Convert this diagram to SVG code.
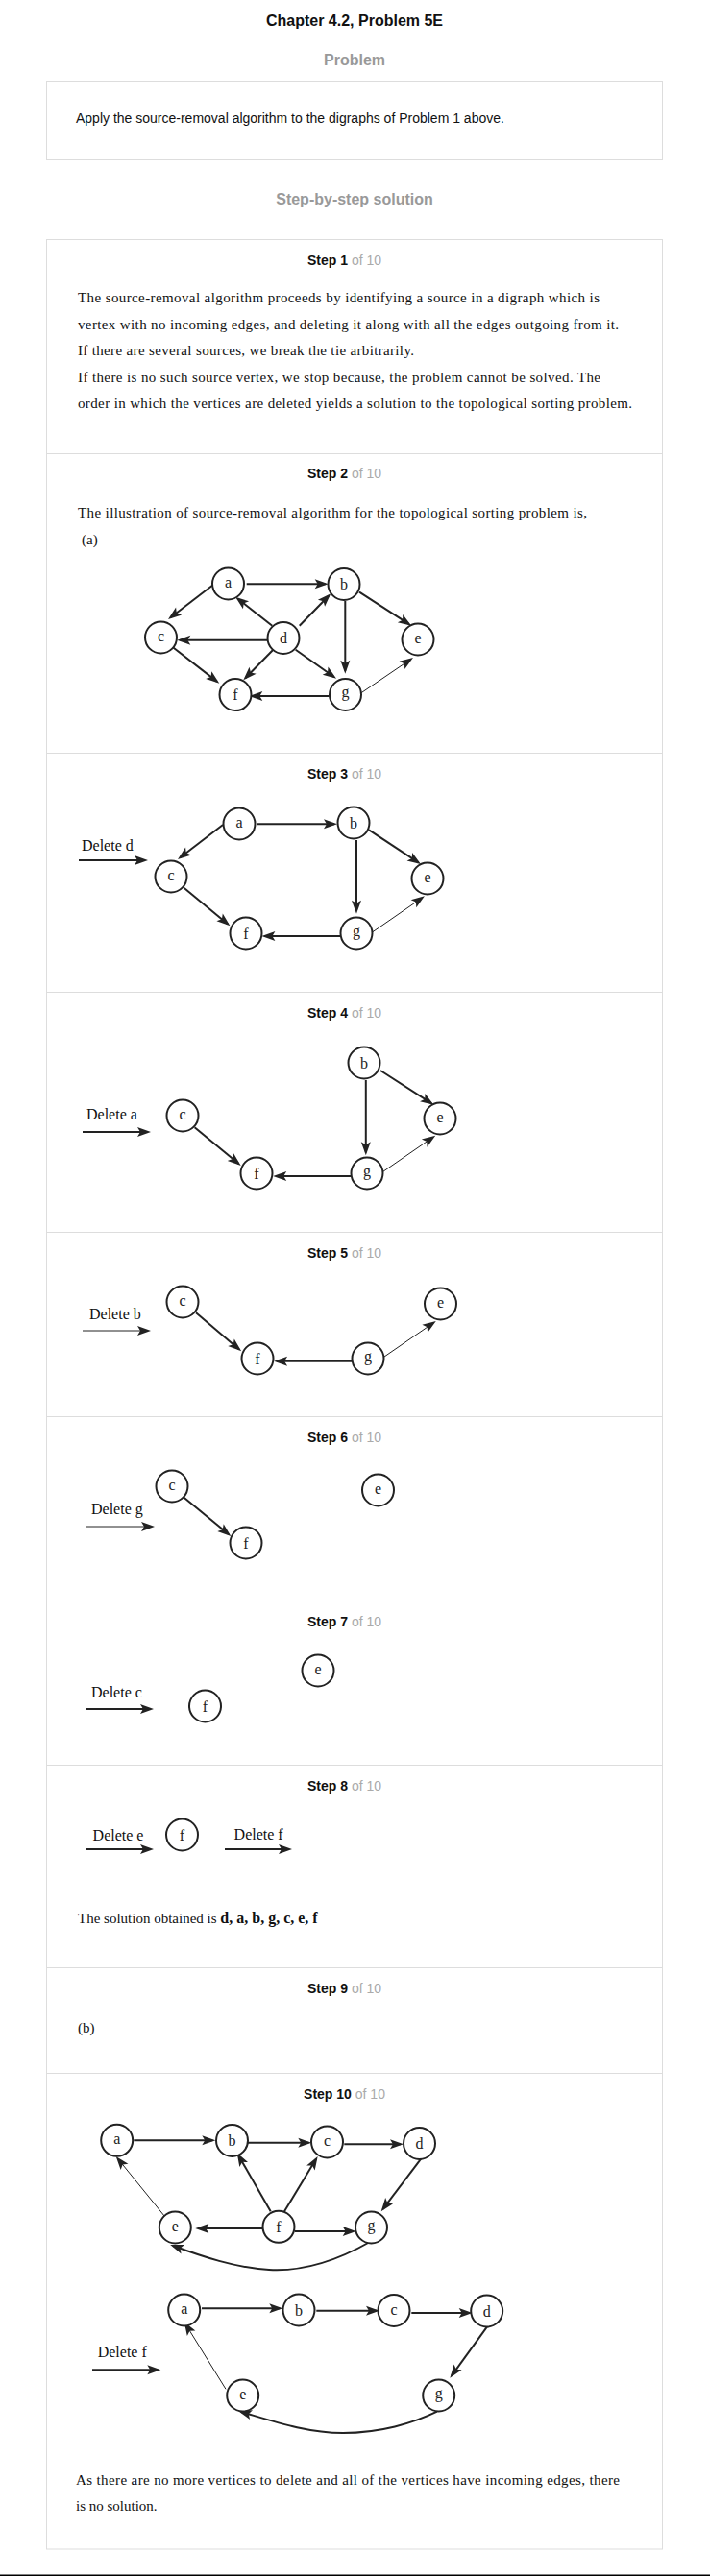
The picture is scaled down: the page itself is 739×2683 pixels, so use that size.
<svg xmlns="http://www.w3.org/2000/svg" width="739" height="2683" viewBox="0 0 739 2683">
<style>
.box{fill:#fff;stroke:#ddd;stroke-width:1}
.div{stroke:#ddd;stroke-width:1}
.title{font-family:"Liberation Sans",Arial,sans-serif;font-size:16px;font-weight:bold;fill:#111;text-anchor:middle}
.sec{font-family:"Liberation Sans",Arial,sans-serif;font-size:16px;font-weight:bold;fill:#999;text-anchor:middle}
.hdr{font-family:"Liberation Sans",Arial,sans-serif;font-size:14px;font-weight:bold;fill:#111;text-anchor:middle}
.of{font-weight:normal;fill:#aaa}
.sans{font-family:"Liberation Sans",Arial,sans-serif;font-size:14px;fill:#111}
.body{font-family:"Liberation Serif","Times New Roman",serif;font-size:15px;fill:#111}
.lbl{font-family:"Liberation Serif","Times New Roman",serif;font-size:16px;fill:#111}
.node circle{fill:#fff;stroke:#222;stroke-width:2}
.node text{font-family:"Liberation Serif","Times New Roman",serif;font-size:16px;fill:#222;text-anchor:middle}
.e{stroke:#222;stroke-width:2;fill:none;marker-end:url(#ah)}
.t{stroke-width:1}
</style>
<defs>
<marker id="ah" viewBox="-14 -6 18 12" markerWidth="18" markerHeight="12" refX="0" refY="0" orient="auto" markerUnits="userSpaceOnUse">
<path d="M3,0 L-11,-5 L-8,0 L-11,5 Z" fill="#222"/>
</marker>
</defs>
<rect width="739" height="2683" fill="#fff"/>

<text class="title" x="369" y="27">Chapter 4.2, Problem 5E</text>
<text class="sec" x="369" y="68">Problem</text>
<rect class="box" x="48.5" y="84.5" width="641" height="82"/>
<text class="sans" x="79" y="128">Apply the source-removal algorithm to the digraphs of Problem 1 above.</text>
<text class="sec" x="369" y="213">Step-by-step solution</text>

<rect class="box" x="48.5" y="249.5" width="641" height="2405.5"/>
<g id="dividers">
<line class="div" x1="48.5" y1="472.5" x2="689.5" y2="472.5"/>
<line class="div" x1="48.5" y1="784.5" x2="689.5" y2="784.5"/>
<line class="div" x1="48.5" y1="1033.5" x2="689.5" y2="1033.5"/>
<line class="div" x1="48.5" y1="1283.5" x2="689.5" y2="1283.5"/>
<line class="div" x1="48.5" y1="1475.5" x2="689.5" y2="1475.5"/>
<line class="div" x1="48.5" y1="1667.5" x2="689.5" y2="1667.5"/>
<line class="div" x1="48.5" y1="1838.5" x2="689.5" y2="1838.5"/>
<line class="div" x1="48.5" y1="2049.5" x2="689.5" y2="2049.5"/>
<line class="div" x1="48.5" y1="2159.5" x2="689.5" y2="2159.5"/>
</g>

<g id="headers">
<text class="hdr" x="358.5" y="276">Step 1 <tspan class="of">of 10</tspan></text>
<text class="hdr" x="358.5" y="498">Step 2 <tspan class="of">of 10</tspan></text>
<text class="hdr" x="358.5" y="811">Step 3 <tspan class="of">of 10</tspan></text>
<text class="hdr" x="358.5" y="1060">Step 4 <tspan class="of">of 10</tspan></text>
<text class="hdr" x="358.5" y="1310">Step 5 <tspan class="of">of 10</tspan></text>
<text class="hdr" x="358.5" y="1502">Step 6 <tspan class="of">of 10</tspan></text>
<text class="hdr" x="358.5" y="1694">Step 7 <tspan class="of">of 10</tspan></text>
<text class="hdr" x="358.5" y="1865">Step 8 <tspan class="of">of 10</tspan></text>
<text class="hdr" x="358.5" y="2076">Step 9 <tspan class="of">of 10</tspan></text>
<text class="hdr" x="358.5" y="2186">Step 10 <tspan class="of">of 10</tspan></text>
</g>

<g id="step1-text">
<text class="body" x="81" y="315" textLength="543" lengthAdjust="spacing">The source-removal algorithm proceeds by identifying a source in a digraph which is</text>
<text class="body" x="81" y="343" textLength="563" lengthAdjust="spacing">vertex with no incoming edges, and deleting it along with all the edges outgoing from it.</text>
<text class="body" x="81" y="370" textLength="350" lengthAdjust="spacing">If there are several sources, we break the tie arbitrarily.</text>
<text class="body" x="81" y="398" textLength="544" lengthAdjust="spacing">If there is no such source vertex, we stop because, the problem cannot be solved. The</text>
<text class="body" x="81" y="425" textLength="577" lengthAdjust="spacing">order in which the vertices are deleted yields a solution to the topological sorting problem.</text>
</g>

<g id="step2-text">
<text class="body" x="81" y="539" textLength="530" lengthAdjust="spacing">The illustration of source-removal algorithm for the topological sorting problem is,</text>
<text class="body" x="85" y="567">(a)</text>
</g>

<!-- Step 2 graph -->
<g id="s2-connectors">
<line class="e" x1="256.7" y1="608.3" x2="338.7" y2="608.3"/>
<line class="e" x1="221.7" y1="609.3" x2="177.4" y2="643.2"/>
<line class="e" x1="283.3" y1="651.7" x2="247.4" y2="623.5"/>
<line class="e" x1="311.7" y1="651.7" x2="342.2" y2="620.5"/>
<line class="e" x1="278" y1="666.7" x2="187.3" y2="666.7"/>
<line class="e" x1="284.3" y1="676.7" x2="255.4" y2="706.2"/>
<line class="e" x1="307.7" y1="676.7" x2="347.6" y2="705.0"/>
<line class="e" x1="359.3" y1="626" x2="359.3" y2="698.7"/>
<line class="e" x1="374" y1="616.7" x2="425.8" y2="650.1"/>
<line class="e" x1="180" y1="674.3" x2="225.9" y2="709.9"/>
<line class="e" x1="342.7" y1="725" x2="262.3" y2="725"/>
<line class="e t" x1="376" y1="721.7" x2="427.5" y2="686.7"/>
</g>
<g id="s2-a" class="node"><circle cx="237.5" cy="608" r="16.5"/><text x="237.5" y="612">a</text></g>
<g id="s2-b" class="node"><circle cx="358" cy="608.5" r="16.5"/><text x="358" y="614">b</text></g>
<g id="s2-c" class="node"><circle cx="167.5" cy="664" r="16.5"/><text x="167.5" y="668">c</text></g>
<g id="s2-d" class="node"><circle cx="295" cy="664.5" r="16.5"/><text x="295" y="670">d</text></g>
<g id="s2-e" class="node"><circle cx="435" cy="666" r="16.5"/><text x="435" y="670">e</text></g>
<g id="s2-f" class="node"><circle cx="245" cy="723.5" r="16.5"/><text x="245" y="729">f</text></g>
<g id="s2-g" class="node"><circle cx="359.5" cy="723.5" r="16.5"/><text x="359.5" y="726">g</text></g>

<!-- Step 3 -->
<text class="lbl" x="85" y="886">Delete d</text>
<g id="s3-connectors">
<line class="e" x1="82" y1="896" x2="151" y2="896"/>
<line class="e" x1="267" y1="858.3" x2="348" y2="858.3"/>
<line class="e" x1="232" y1="859" x2="187.4" y2="893.2"/>
<line class="e" x1="384" y1="864.3" x2="435.5" y2="898.3"/>
<line class="e" x1="371" y1="875" x2="371" y2="948.7"/>
<line class="e" x1="191.8" y1="925" x2="237.1" y2="962.4"/>
<line class="e" x1="354.4" y1="975" x2="275.4" y2="975"/>
<line class="e t" x1="386.4" y1="971.7" x2="439.5" y2="935.0"/>
</g>
<g id="s3-a" class="node"><circle cx="249" cy="858" r="16.5"/><text x="249" y="862">a</text></g>
<g id="s3-b" class="node"><circle cx="368" cy="857" r="16.5"/><text x="368" y="862.5">b</text></g>
<g id="s3-c" class="node"><circle cx="178" cy="913" r="16.5"/><text x="178" y="917">c</text></g>
<g id="s3-e" class="node"><circle cx="445" cy="915" r="16.5"/><text x="445" y="919">e</text></g>
<g id="s3-f" class="node"><circle cx="256" cy="972" r="16.5"/><text x="256" y="977.5">f</text></g>
<g id="s3-g" class="node"><circle cx="371" cy="972" r="16.5"/><text x="371" y="974.5">g</text></g>

<!-- Step 4 -->
<text class="lbl" x="90" y="1166">Delete a</text>
<g id="s4-connectors">
<line class="e" x1="86" y1="1179" x2="154" y2="1179"/>
<line class="e" x1="396" y1="1115" x2="449.0" y2="1149.1"/>
<line class="e" x1="380.8" y1="1125" x2="380.8" y2="1200.3"/>
<line class="e" x1="202.6" y1="1174.3" x2="248.4" y2="1212.1"/>
<line class="e" x1="366.2" y1="1225" x2="287.2" y2="1225"/>
<line class="e t" x1="398.2" y1="1220.7" x2="450.8" y2="1184.4"/>
</g>
<g id="s4-b" class="node"><circle cx="379" cy="1107" r="16.5"/><text x="379" y="1112.5">b</text></g>
<g id="s4-c" class="node"><circle cx="190" cy="1162" r="16.5"/><text x="190" y="1166">c</text></g>
<g id="s4-e" class="node"><circle cx="458" cy="1165" r="16.5"/><text x="458" y="1169">e</text></g>
<g id="s4-f" class="node"><circle cx="267" cy="1222" r="16.5"/><text x="267" y="1227.5">f</text></g>
<g id="s4-g" class="node"><circle cx="382" cy="1222" r="16.5"/><text x="382" y="1224.5">g</text></g>

<!-- Step 5 -->
<text class="lbl" x="93" y="1374">Delete b</text>
<g id="s5-connectors">
<line class="e t" x1="86" y1="1386" x2="154" y2="1386"/>
<line class="e" x1="204" y1="1367.3" x2="248.9" y2="1405.4"/>
<line class="e" x1="366.6" y1="1417.7" x2="288.1" y2="1417.7"/>
<line class="e t" x1="399.6" y1="1413.3" x2="451.3" y2="1377.7"/>
</g>
<g id="s5-c" class="node"><circle cx="190" cy="1356" r="16.5"/><text x="190" y="1360">c</text></g>
<g id="s5-e" class="node"><circle cx="458.5" cy="1358" r="16.5"/><text x="458.5" y="1362">e</text></g>
<g id="s5-f" class="node"><circle cx="268" cy="1415" r="16.5"/><text x="268" y="1420.5">f</text></g>
<g id="s5-g" class="node"><circle cx="383" cy="1415" r="16.5"/><text x="383" y="1417.5">g</text></g>

<!-- Step 6 -->
<text class="lbl" x="95" y="1577">Delete g</text>
<g id="s6-connectors">
<line class="e t" x1="90" y1="1590" x2="158" y2="1590"/>
<line class="e" x1="190.9" y1="1559.3" x2="238.0" y2="1598.1"/>
</g>
<g id="s6-c" class="node"><circle cx="179" cy="1548" r="16.5"/><text x="179" y="1552">c</text></g>
<g id="s6-e" class="node"><circle cx="393.5" cy="1552" r="16.5"/><text x="393.5" y="1556">e</text></g>
<g id="s6-f" class="node"><circle cx="256" cy="1607" r="16.5"/><text x="256" y="1612.5">f</text></g>

<!-- Step 7 -->
<text class="lbl" x="95" y="1768">Delete c</text>
<g id="s7-connectors">
<line class="e" x1="90" y1="1780" x2="157" y2="1780"/>
</g>
<g id="s7-e" class="node"><circle cx="331" cy="1740" r="16.5"/><text x="331" y="1744">e</text></g>
<g id="s7-f" class="node"><circle cx="213.5" cy="1777" r="16.5"/><text x="213.5" y="1782.5">f</text></g>

<!-- Step 8 -->
<text class="lbl" x="96.6" y="1917">Delete e</text>
<text class="lbl" x="243.6" y="1916">Delete f</text>
<g id="s8-connectors">
<line class="e" x1="90" y1="1926" x2="157" y2="1926"/>
<line class="e" x1="234" y1="1926" x2="301" y2="1926"/>
</g>
<g id="s8-f" class="node"><circle cx="189.5" cy="1911" r="16.5"/><text x="189.5" y="1916.5">f</text></g>
<text class="body" x="81" y="2003">The solution obtained is <tspan font-weight="bold" font-size="16">d, a, b, g, c, e, f</tspan></text>

<!-- Step 9 -->
<text class="body" x="81" y="2117">(b)</text>

<!-- Step 10 top graph -->
<g id="s10a-connectors">
<line class="e" x1="139.3" y1="2229.3" x2="221.3" y2="2229.3"/>
<line class="e" x1="258" y1="2231.7" x2="321.3" y2="2231.7"/>
<line class="e" x1="358.3" y1="2233.3" x2="417" y2="2233.3"/>
<line class="e" x1="438.3" y1="2248.3" x2="398.5" y2="2300.9"/>
<line class="e" x1="281.7" y1="2303.3" x2="248.2" y2="2244.9"/>
<line class="e" x1="296" y1="2303.3" x2="329.1" y2="2248.6"/>
<line class="e" x1="274.3" y1="2321" x2="206.3" y2="2321"/>
<line class="e" x1="306.7" y1="2324" x2="367.7" y2="2324"/>
<line class="e t" x1="172.7" y1="2310" x2="122.6" y2="2248.3"/>
<path class="e" d="M385,2335 C350,2355 315,2366 280,2364 C245,2362 210,2350 180,2339"/>
</g>
<g id="s10a-a" class="node"><circle cx="121.7" cy="2229.3" r="16.5"/><text x="121.7" y="2233.3">a</text></g>
<g id="s10a-b" class="node"><circle cx="241.5" cy="2229.5" r="16.5"/><text x="241.5" y="2235">b</text></g>
<g id="s10a-c" class="node"><circle cx="340.5" cy="2231" r="16.5"/><text x="340.5" y="2235">c</text></g>
<g id="s10a-d" class="node"><circle cx="436.5" cy="2232.5" r="16.5"/><text x="436.5" y="2238">d</text></g>
<g id="s10a-e" class="node"><circle cx="182.3" cy="2320" r="16.5"/><text x="182.3" y="2324">e</text></g>
<g id="s10a-f" class="node"><circle cx="290" cy="2319.3" r="16.5"/><text x="290" y="2324.8">f</text></g>
<g id="s10a-g" class="node"><circle cx="386.5" cy="2320" r="16.5"/><text x="386.5" y="2322.5">g</text></g>

<!-- Step 10 bottom graph -->
<text class="lbl" x="101.7" y="2455">Delete f</text>
<g id="s10b-connectors">
<line class="e" x1="96" y1="2468.3" x2="164.3" y2="2468.3"/>
<line class="e" x1="210" y1="2404.3" x2="291.3" y2="2404.3"/>
<line class="e" x1="329.3" y1="2406.7" x2="392" y2="2406.7"/>
<line class="e" x1="428.3" y1="2409" x2="488.7" y2="2409"/>
<line class="e" x1="508.3" y1="2421.7" x2="470.1" y2="2474.3"/>
<line class="e t" x1="235" y1="2488.3" x2="193.3" y2="2420.9"/>
<path class="e" d="M455,2511.7 C430,2524 395,2534 357,2534 C320,2534 285,2522 251,2512"/>
</g>
<g id="s10b-a" class="node"><circle cx="191.7" cy="2406" r="16.5"/><text x="191.7" y="2410">a</text></g>
<g id="s10b-b" class="node"><circle cx="311" cy="2406" r="16.5"/><text x="311" y="2411.5">b</text></g>
<g id="s10b-c" class="node"><circle cx="410" cy="2406.5" r="16.5"/><text x="410" y="2410.5">c</text></g>
<g id="s10b-d" class="node"><circle cx="506.7" cy="2407" r="16.5"/><text x="506.7" y="2412.5">d</text></g>
<g id="s10b-e" class="node"><circle cx="252.7" cy="2495" r="16.5"/><text x="252.7" y="2499">e</text></g>
<g id="s10b-g" class="node"><circle cx="456.7" cy="2495" r="16.5"/><text x="456.7" y="2497.5">g</text></g>

<g id="step10-text">
<text class="body" x="79" y="2588" textLength="566" lengthAdjust="spacing">As there are no more vertices to delete and all of the vertices have incoming edges, there</text>
<text class="body" x="79" y="2615">is no solution.</text>
</g>

<rect x="0" y="2681.5" width="739" height="1.5" fill="#000"/>
</svg>
